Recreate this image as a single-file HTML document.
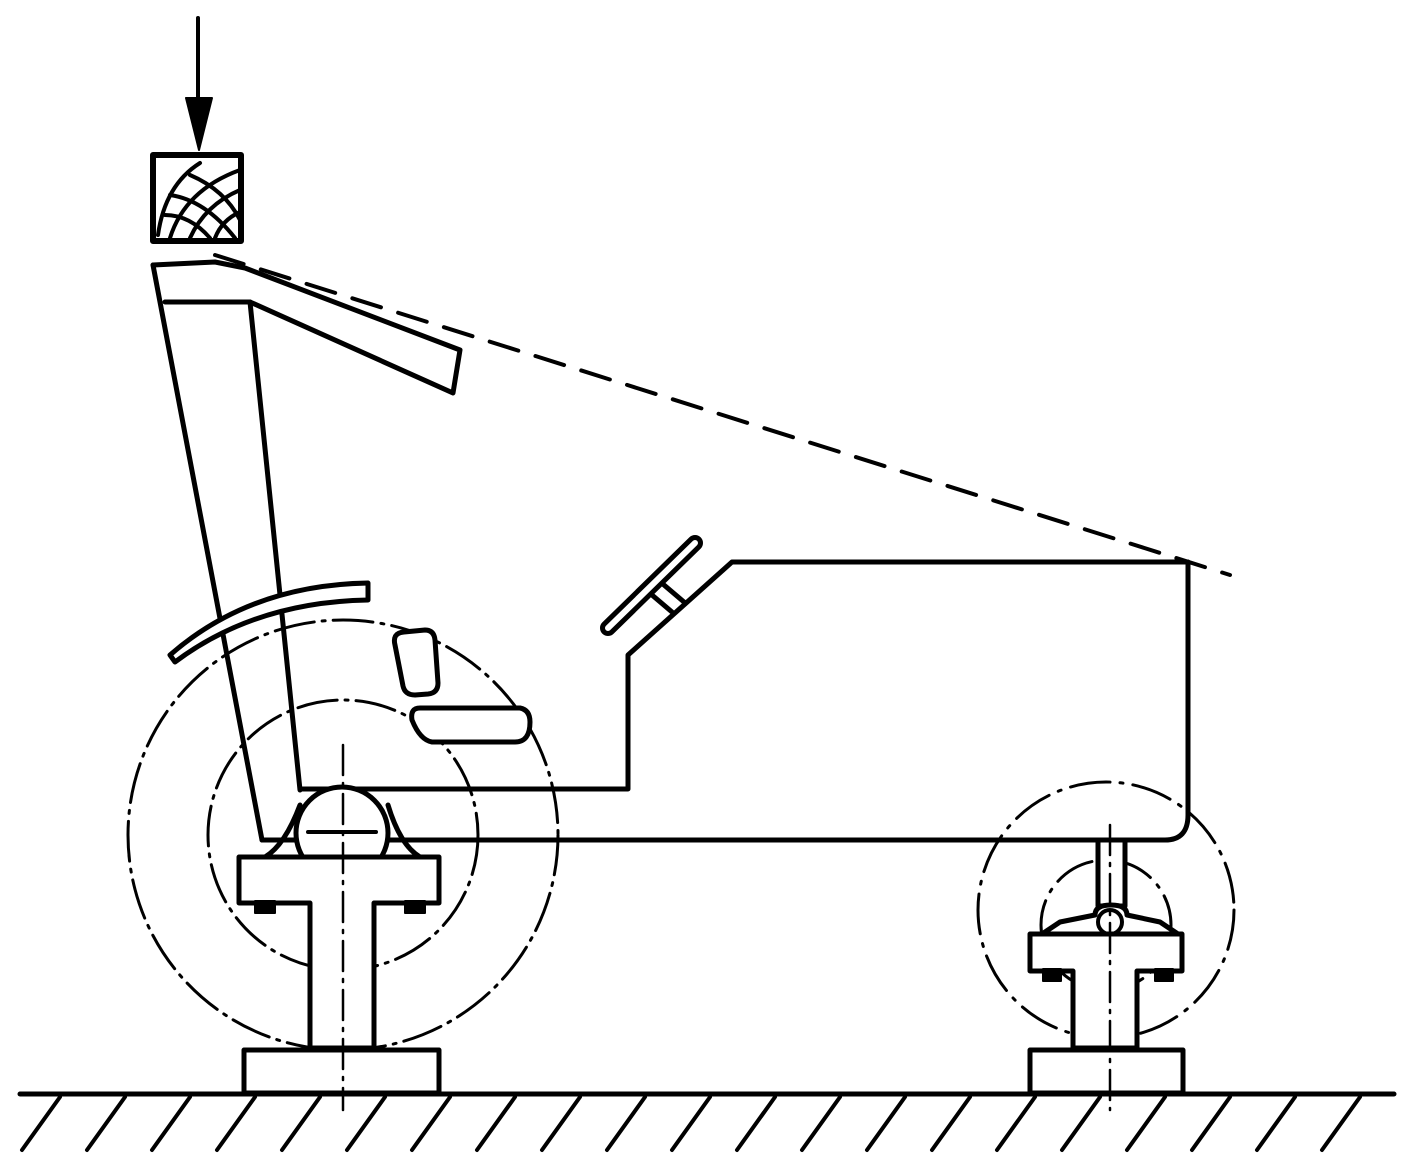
<!DOCTYPE html>
<html><head><meta charset="utf-8"><style>html,body{margin:0;padding:0;background:#fff}svg{display:block}</style></head>
<body>
<svg width="1406" height="1173" viewBox="0 0 1406 1173" xmlns="http://www.w3.org/2000/svg" fill="none" stroke="#000" stroke-linecap="round" stroke-linejoin="round">
<line x1="198" y1="18" x2="198" y2="105" stroke-width="4"/>
<polygon points="186,98 212,98 199,150" fill="#000" stroke-width="2"/>
<rect x="153" y="155" width="88" height="86" stroke-width="6"/>
<g stroke-width="4">
<path d="M158,235 Q165,185 200,163"/>
<path d="M170,238 Q185,190 240,170"/>
<path d="M190,238 Q205,205 240,190"/>
<path d="M215,238 Q222,220 240,212"/>
<path d="M170,195 Q205,200 235,238"/>
<path d="M190,175 Q225,190 240,220"/>
<path d="M165,215 Q190,215 210,238"/>
</g>
<g stroke-width="5">
<path d="M153,265 L215,262 L245,268 L460,350 L453,393 L250,302 L165,302"/>
<path d="M153,265 L262,840"/>
<path d="M250,302 L300,790"/>
</g>
<line x1="215" y1="255" x2="1230" y2="575" stroke-width="4" stroke-dasharray="30,18"/>
<circle cx="343" cy="835" r="215" stroke-width="3" stroke-dasharray="40,8,3,8"/>
<circle cx="343" cy="835" r="135" stroke-width="3" stroke-dasharray="40,8,3,8"/>
<path d="M170,655 Q250,585 368,583 L368,600 Q255,602 175,662 Z" stroke-width="5" fill="#fff"/>
<path d="M300,789 L628,789 L628,655 L732,562 L1188,562 L1188,815 Q1188,840 1165,840 L262,840" stroke-width="5"/>
<line x1="608" y1="628" x2="695" y2="543" stroke-width="16"/>
<line x1="608" y1="628" x2="695" y2="543" stroke-width="6" stroke="#fff"/>
<path d="M652,595 L672,612 M664,585 L684,602" stroke-width="5"/>
<path d="M395,645 Q392,633 404,632 L425,630 Q434,630 435,640 L438,683 Q438,693 428,694 L415,695 Q405,695 403,686 Z" stroke-width="5" fill="#fff"/>
<path d="M420,708 L520,708 Q530,710 530,722 Q530,742 515,742 L432,742 Q420,740 412,720 Q410,708 420,708 Z" stroke-width="5" fill="#fff"/>
<path d="M265,857 Q285,845 300,805 M420,857 Q400,845 388,805" stroke-width="5"/>
<circle cx="342" cy="833" r="46" stroke-width="5" fill="#fff"/>
<line x1="308" y1="832" x2="376" y2="832" stroke-width="4"/>
<path d="M239,857 L439,857 L439,903 L374,903 L374,1048 L310,1048 L310,903 L239,903 Z" stroke-width="5" fill="#fff"/>
<rect x="255" y="901" width="20" height="12" fill="#000" stroke-width="2"/>
<rect x="405" y="901" width="20" height="12" fill="#000" stroke-width="2"/>
<rect x="244" y="1050" width="195" height="43" stroke-width="5" fill="#fff"/>
<line x1="343" y1="745" x2="343" y2="1110" stroke-width="2.5" stroke-dasharray="30,8,3,8"/>
<circle cx="1106" cy="910" r="128" stroke-width="3" stroke-dasharray="40,10,3,10"/>
<circle cx="1106" cy="925" r="65" stroke-width="3" stroke-dasharray="40,10,3,10"/>
<rect x="1098" y="840" width="27" height="66" stroke-width="5" fill="#fff"/>
<path d="M1042,934 L1060,922 L1095,915 Q1095,905 1111,905 Q1127,905 1127,915 L1160,922 L1178,934 Z" stroke-width="5" fill="#fff"/>
<circle cx="1110" cy="922" r="12" stroke-width="4" fill="#fff"/>
<path d="M1030,934 L1182,934 L1182,971 L1137,971 L1137,1048 L1073,1048 L1073,971 L1030,971 Z" stroke-width="5" fill="#fff"/>
<rect x="1043" y="969" width="18" height="12" fill="#000" stroke-width="2"/>
<rect x="1155" y="969" width="18" height="12" fill="#000" stroke-width="2"/>
<rect x="1030" y="1050" width="153" height="43" stroke-width="5" fill="#fff"/>
<line x1="1110" y1="825" x2="1110" y2="1110" stroke-width="2.5" stroke-dasharray="30,8,3,8"/>
<line x1="20" y1="1094" x2="1394" y2="1094" stroke-width="5"/>
<g stroke-width="4">
<line x1="60" y1="1097" x2="22" y2="1150"/>
<line x1="125" y1="1097" x2="87" y2="1150"/>
<line x1="190" y1="1097" x2="152" y2="1150"/>
<line x1="255" y1="1097" x2="217" y2="1150"/>
<line x1="320" y1="1097" x2="282" y2="1150"/>
<line x1="385" y1="1097" x2="347" y2="1150"/>
<line x1="450" y1="1097" x2="412" y2="1150"/>
<line x1="515" y1="1097" x2="477" y2="1150"/>
<line x1="580" y1="1097" x2="542" y2="1150"/>
<line x1="645" y1="1097" x2="607" y2="1150"/>
<line x1="710" y1="1097" x2="672" y2="1150"/>
<line x1="775" y1="1097" x2="737" y2="1150"/>
<line x1="840" y1="1097" x2="802" y2="1150"/>
<line x1="905" y1="1097" x2="867" y2="1150"/>
<line x1="970" y1="1097" x2="932" y2="1150"/>
<line x1="1035" y1="1097" x2="997" y2="1150"/>
<line x1="1100" y1="1097" x2="1062" y2="1150"/>
<line x1="1165" y1="1097" x2="1127" y2="1150"/>
<line x1="1230" y1="1097" x2="1192" y2="1150"/>
<line x1="1295" y1="1097" x2="1257" y2="1150"/>
<line x1="1360" y1="1097" x2="1322" y2="1150"/>
</g>
</svg>
</body></html>
